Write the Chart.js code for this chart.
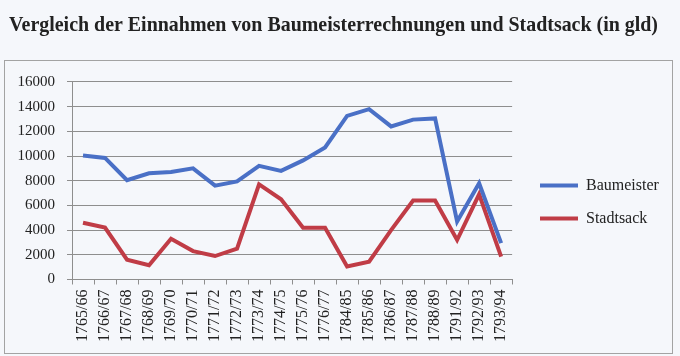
<!DOCTYPE html>
<html>
<head>
<meta charset="utf-8">
<script src="https://cdn.jsdelivr.net/npm/chart.js@4.4.1/dist/chart.umd.min.js"></script>
<style>
  html, body { margin: 0; padding: 0; background: #f5f7fb; }
  #wrap { position: relative; width: 680px; height: 356px; }
  #frame { position: absolute; left: 4px; top: 60px; width: 667px; height: 292px; border: 1px solid #a3a3a3; pointer-events: none; }
  canvas { display: block; }
</style>
</head>
<body>
<div id="wrap">
  <canvas id="c" width="680" height="356"></canvas>
  <div id="frame"></div>
</div>
<script>
const titleText = 'Vergleich der Einnahmen von Baumeisterrechnungen und Stadtsack (in gld)';
const categories = ['1765/66','1766/67','1767/68','1768/69','1769/70','1770/71','1771/72','1772/73','1773/74','1774/75','1775/76','1776/77','1784/85','1785/86','1786/87','1787/88','1788/89','1791/92','1792/93','1793/94'];
const baumeister = [10050, 9850, 8050, 8600, 8700, 9000, 7600, 7950, 9200, 8800, 9650, 10700, 13250, 13800, 12400, 12950, 13050, 4700, 7800, 2950];
const stadtsack = [4600, 4200, 1600, 1150, 3300, 2300, 1900, 2500, 7700, 6500, 4200, 4200, 1050, 1450, 4000, 6400, 6400, 3200, 6900, 1850];
const seriesNames = ['Baumeister', 'Stadtsack'];
const yMin = 0, yMax = 16000, yStep = 2000;

const serif = "'Liberation Serif', 'Times New Roman', serif";
Chart.defaults.font.family = serif;
const mctx = document.createElement('canvas').getContext('2d');
mctx.font = 'bold 20px ' + serif;
const titleSize = 20 * 664 / mctx.measureText(titleText).width;

const blue = '#4a70c6';
const red = '#c03c46';
const gridCol = '#8e8e8e';

const legendShift = {
  id: 'legendShift',
  afterLayout(chart) {
    const l = chart.legend;
    if (!l) return;
    const dx = 523 - l.left;
    l.left += dx; l.right += dx;
    l.top += 24; l.bottom += 24;
  }
};

new Chart(document.getElementById('c'), {
  type: 'line',
  data: {
    labels: categories,
    datasets: [
      { label: seriesNames[0], data: baumeister, borderColor: blue, backgroundColor: blue, borderWidth: 4, pointRadius: 0, tension: 0 },
      { label: seriesNames[1], data: stadtsack, borderColor: red, backgroundColor: red, borderWidth: 4, pointRadius: 0, tension: 0 }
    ]
  },
  options: {
    responsive: false,
    animation: false,
    devicePixelRatio: 1,
    layout: { padding: { left: 9, right: 22, top: 0, bottom: 0 } },
    plugins: {
      title: {
        display: true,
        text: titleText,
        align: 'start',
        color: '#222',
        font: { family: serif, size: titleSize, weight: 'bold', lineHeight: 1.2 },
        padding: { top: 13.5, bottom: 44 }
      },
      legend: {
        position: 'right',
        labels: {
          boxWidth: 38,
          boxHeight: 0,
          padding: 17,
          color: '#222',
          font: { family: serif, size: 16 }
        }
      },
      tooltip: { enabled: false }
    },
    scales: {
      x: {
        offset: true,
        grid: { offset: true, drawOnChartArea: false, drawTicks: true, tickLength: 5, color: gridCol },
        border: { color: gridCol, width: 1 },
        ticks: { autoSkip: false, maxRotation: 90, minRotation: 90, padding: 5, color: '#222', font: { family: serif, size: 16 } },
        afterFit(scale) { scale.height = 76.5; }
      },
      y: {
        min: yMin, max: yMax,
        grid: { color: gridCol, lineWidth: 1, tickLength: 5 },
        border: { color: gridCol, width: 1 },
        ticks: { stepSize: yStep, padding: 12, color: '#222', font: { family: serif, size: 15 }, callback: (v) => String(v) },
        afterFit(scale) { scale.width = 63; }
      }
    }
  },
  plugins: [legendShift]
});
</script>
</body>
</html>
